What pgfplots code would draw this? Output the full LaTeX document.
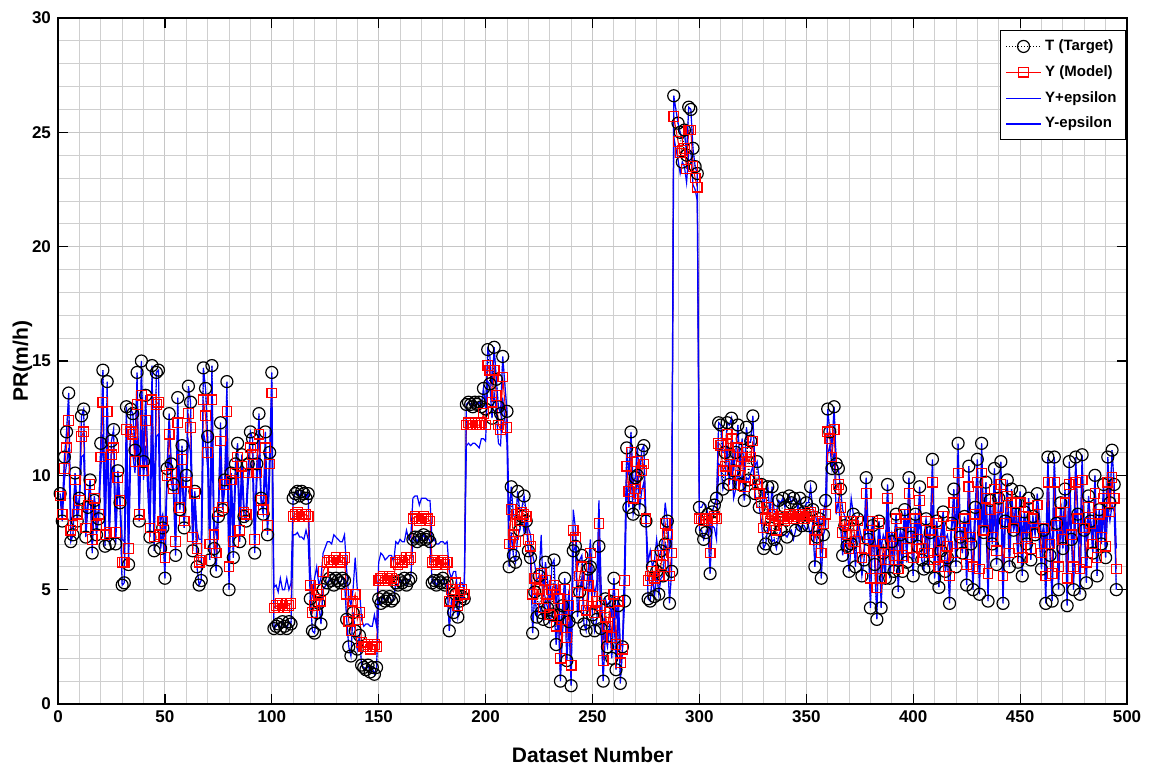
\documentclass[border=0pt]{standalone}
\usepackage{fontspec}
\setmainfont{Liberation Sans}
\usepackage{pgfplots}
\usepackage{pgfplotstable}
\pgfplotsset{compat=1.18}
\pgfplotstableread{
x T Y P M
1 9.2 9.1 9.2 9.0
2 8.0 8.3 8.6 8.0
3 10.8 10.3 10.8 9.8
4 11.9 11.2 11.9 10.5
5 13.6 12.4 13.6 11.2
6 7.1 7.6 8.1 7.1
7 7.4 7.8 8.2 7.4
8 10.1 9.8 10.1 9.5
9 8.0 8.3 8.6 8.0
10 9.0 8.9 9.0 8.8
11 12.6 11.7 12.6 10.8
12 12.9 11.9 12.9 10.9
13 7.3 7.7 8.1 7.3
14 8.6 8.7 8.8 8.6
15 9.8 9.6 9.8 9.4
16 6.6 7.2 7.8 6.6
17 8.9 9.0 9.1 8.9
18 7.4 7.8 8.2 7.4
19 8.1 8.3 8.5 8.1
20 11.4 10.8 11.4 10.2
21 14.6 13.2 14.6 11.8
22 6.9 7.4 7.9 6.9
23 14.1 12.8 14.1 11.5
24 7.0 7.5 8.0 7.0
25 11.5 10.9 11.5 10.3
26 12.0 11.2 12.0 10.4
27 7.0 7.5 8.0 7.0
28 10.2 9.9 10.2 9.6
29 8.8 8.9 9.0 8.8
30 5.2 6.2 7.2 5.2
31 5.3 6.2 7.1 5.3
32 13.0 12.0 13.0 11.0
33 6.1 6.8 7.5 6.1
34 12.9 11.9 12.9 10.9
35 12.7 11.8 12.7 10.9
36 11.1 10.6 11.1 10.1
37 14.5 13.1 14.5 11.7
38 8.0 8.3 8.6 8.0
39 15.0 13.5 15.0 12.0
40 10.6 10.2 10.6 9.8
41 13.5 12.4 13.5 11.3
43 7.3 7.7 8.1 7.3
44 14.8 13.3 14.8 11.8
45 6.7 7.3 7.9 6.7
46 14.5 13.1 14.5 11.7
47 14.6 13.2 14.6 11.8
48 6.8 7.4 8.0 6.8
49 7.7 8.0 8.3 7.7
50 5.5 6.4 7.3 5.5
51 10.3 10.0 10.3 9.7
52 12.7 11.8 12.7 10.9
53 10.5 10.1 10.5 9.7
54 9.6 9.4 9.6 9.2
55 6.5 7.1 7.7 6.5
56 13.4 12.3 13.4 11.2
57 8.5 8.6 8.7 8.5
58 11.3 10.7 11.3 10.1
59 7.7 8.0 8.3 7.7
60 10.0 9.7 10.0 9.4
61 13.9 12.7 13.9 11.5
62 13.2 12.1 13.2 11.0
63 6.7 7.3 7.9 6.7
64 9.3 9.2 9.3 9.1
65 6.0 6.8 7.6 6.0
66 5.2 6.2 7.2 5.2
67 5.4 6.3 7.2 5.4
68 14.7 13.3 14.7 11.9
69 13.8 12.6 13.8 11.4
70 11.7 11.0 11.7 10.3
71 6.3 7.0 7.7 6.3
72 14.8 13.3 14.8 11.8
73 6.8 7.4 8.0 6.8
74 5.8 6.6 7.4 5.8
75 8.2 8.4 8.6 8.2
76 12.3 11.5 12.3 10.7
77 8.5 8.6 8.7 8.5
78 9.8 9.6 9.8 9.4
79 14.1 12.8 14.1 11.5
80 5.0 6.0 7.0 5.0
81 10.1 9.8 10.1 9.5
82 6.4 7.1 7.8 6.4
83 10.5 10.1 10.5 9.7
84 11.4 10.8 11.4 10.2
85 7.1 7.6 8.1 7.1
86 10.9 10.4 10.9 9.9
87 8.2 8.4 8.6 8.2
88 8.0 8.3 8.6 8.0
89 10.5 10.1 10.5 9.7
90 11.9 11.2 11.9 10.5
91 11.6 10.9 11.6 10.2
92 6.6 7.2 7.8 6.6
93 10.5 10.1 10.5 9.7
94 12.7 11.8 12.7 10.9
95 9.0 8.9 9.0 8.8
96 8.3 8.5 8.7 8.3
97 11.9 11.2 11.9 10.5
98 7.4 7.8 8.2 7.4
99 11.0 10.5 11.0 10.0
100 14.5 13.6 14.5 12.7
101 3.3 4.2 5.1 3.3
102 3.4 4.3 5.2 3.4
103 3.5 4.2 4.9 3.5
104 3.3 4.4 5.5 3.3
105 3.6 4.3 5.0 3.6
106 3.4 4.2 5.0 3.4
107 3.3 4.4 5.5 3.3
108 3.6 4.3 5.0 3.6
109 3.5 4.4 5.3 3.5
110 9.0 8.2 9.0 7.4
111 9.2 8.3 9.2 7.4
112 9.3 8.4 9.3 7.5
113 9.1 8.2 9.1 7.3
114 9.3 8.3 9.3 7.3
115 9.2 8.2 9.2 7.2
116 9.0 8.3 9.0 7.6
117 9.2 8.2 9.2 7.2
118 4.6 5.2 5.8 4.6
119 3.2 4.0 4.8 3.2
120 3.1 4.3 5.5 3.1
121 4.0 5.0 6.0 4.0
122 4.4 4.8 5.2 4.4
123 3.5 4.5 5.5 3.5
124 5.0 5.8 6.6 5.0
126 5.3 6.2 7.1 5.3
127 5.5 6.3 7.1 5.5
128 5.4 6.2 7.0 5.4
129 5.2 6.3 7.4 5.2
130 5.5 6.4 7.3 5.5
131 5.4 6.3 7.2 5.4
132 5.3 6.2 7.1 5.3
133 5.5 6.3 7.1 5.5
134 5.4 6.4 7.4 5.4
135 3.7 4.8 5.9 3.7
136 2.5 3.6 4.7 2.5
137 2.1 3.2 4.3 2.1
138 4.0 4.5 5.0 4.0
139 3.2 4.8 6.4 3.2
140 2.4 3.7 5.0 2.4
141 3.0 4.0 5.0 3.0
142 1.7 2.7 3.7 1.7
143 1.6 2.5 3.4 1.6
144 1.5 2.5 3.5 1.5
145 1.7 2.6 3.5 1.7
146 1.4 2.4 3.4 1.4
147 1.6 2.5 3.4 1.6
148 1.3 2.6 3.9 1.3
149 1.6 2.5 3.4 1.6
150 4.6 5.4 6.2 4.6
151 4.4 5.5 6.6 4.4
152 4.7 5.6 6.5 4.7
153 4.5 5.4 6.3 4.5
154 4.6 5.5 6.4 4.6
155 4.7 5.6 6.5 4.7
156 4.5 5.5 6.5 4.5
157 4.6 5.4 6.2 4.6
158 5.3 6.2 7.1 5.3
159 5.2 6.1 7.0 5.2
160 5.4 6.3 7.2 5.4
161 5.3 6.2 7.1 5.3
162 5.5 6.3 7.1 5.5
163 5.2 6.4 7.6 5.2
164 5.4 6.3 7.2 5.4
165 5.5 6.4 7.3 5.5
166 7.2 8.1 9.0 7.2
167 7.3 8.2 9.1 7.3
168 7.1 8.1 9.1 7.1
169 7.3 8.0 8.7 7.3
170 7.2 8.1 9.0 7.2
171 7.4 8.2 9.0 7.4
172 7.2 8.1 9.0 7.2
173 7.3 8.1 8.9 7.3
174 7.1 8.0 8.9 7.1
175 5.3 6.2 7.1 5.3
176 5.4 6.3 7.2 5.4
177 5.2 6.1 7.0 5.2
178 5.4 6.2 7.0 5.4
179 5.3 6.2 7.1 5.3
180 5.5 6.3 7.1 5.5
181 5.2 6.1 7.0 5.2
182 5.3 6.2 7.1 5.3
183 3.2 4.5 5.8 3.2
184 4.5 5.0 5.5 4.5
185 4.0 4.9 5.8 4.0
186 4.8 5.3 5.8 4.8
187 3.8 4.3 4.8 3.8
188 4.5 4.9 5.3 4.5
189 4.7 5.0 5.3 4.7
190 4.6 4.8 5.0 4.6
191 13.1 12.2 13.1 11.3
192 13.2 12.3 13.2 11.4
193 13.1 12.2 13.1 11.3
194 13.0 12.2 13.0 11.4
195 13.2 12.3 13.2 11.4
196 13.1 12.2 13.1 11.3
197 13.2 12.2 13.2 11.2
198 13.0 12.3 13.0 11.6
199 13.8 12.7 13.8 11.6
200 12.9 12.2 12.9 11.5
201 15.5 14.8 15.5 14.1
202 14.0 14.6 15.2 14.0
203 12.5 13.2 13.9 12.5
204 15.6 14.6 15.6 13.6
205 14.2 13.5 14.2 12.8
206 13.0 12.2 13.0 11.4
207 12.7 12.0 12.7 11.3
208 15.2 14.3 15.2 13.4
210 12.8 12.1 12.8 11.4
211 6.0 7.0 8.0 6.0
212 9.5 8.5 9.5 7.5
213 6.5 7.4 8.3 6.5
214 6.2 7.1 8.0 6.2
215 9.3 8.3 9.3 7.3
216 7.6 8.0 8.4 7.6
217 8.2 8.4 8.6 8.2
218 9.1 8.3 9.1 7.5
219 8.0 8.2 8.4 8.0
220 6.7 7.2 7.7 6.7
221 6.4 6.9 7.4 6.4
222 3.1 4.8 6.5 3.1
223 4.9 5.5 6.1 4.9
224 3.8 4.6 5.4 3.8
225 5.6 5.0 5.6 4.4
226 4.0 5.7 7.4 4.0
227 3.7 4.2 4.7 3.7
228 6.2 5.4 6.2 4.6
229 4.2 4.8 5.4 4.2
230 3.6 3.9 4.2 3.6
231 3.9 5.0 6.1 3.9
232 6.3 5.2 6.3 4.1
233 2.6 3.4 4.2 2.6
234 3.9 4.6 5.3 3.9
235 1.0 2.0 3.0 1.0
236 4.3 3.7 4.3 3.1
237 5.5 5.0 5.5 4.5
238 1.9 2.9 3.9 1.9
239 3.6 4.3 5.0 3.6
240 0.8 1.7 2.6 0.8
241 6.7 7.6 8.5 6.7
242 6.9 7.3 7.7 6.9
243 3.8 4.9 6.0 3.8
244 4.9 5.6 6.3 4.9
245 6.5 6.0 6.5 5.5
246 3.5 4.3 5.1 3.5
247 3.2 4.1 5.0 3.2
248 5.9 5.2 5.9 4.5
249 6.0 6.6 7.2 6.0
250 3.9 4.7 5.5 3.9
251 3.2 4.0 4.8 3.2
252 3.7 4.5 5.3 3.7
253 6.9 7.9 8.9 6.9
254 3.3 4.3 5.3 3.3
255 1.0 1.9 2.8 1.0
256 4.6 3.8 4.6 3.0
257 2.5 3.4 4.3 2.5
258 4.5 4.0 4.5 3.5
259 2.0 2.9 3.8 2.0
260 5.5 4.8 5.5 4.1
261 1.5 2.6 3.7 1.5
262 4.3 4.5 4.7 4.3
263 0.9 1.8 2.7 0.9
264 2.5 2.4 2.5 2.3
265 4.5 5.4 6.3 4.5
266 11.2 10.4 11.2 9.6
267 8.6 9.3 10.0 8.6
268 11.9 11.0 11.9 10.1
269 8.3 9.0 9.7 8.3
270 9.9 9.4 9.9 8.9
271 10.0 10.6 11.2 10.0
272 8.5 9.2 9.9 8.5
273 11.1 10.2 11.1 9.3
274 11.3 10.5 11.3 9.7
275 8.0 8.1 8.2 8.0
276 4.6 5.4 6.2 4.6
277 4.5 5.6 6.7 4.5
278 6.0 5.8 6.0 5.6
279 4.7 5.5 6.3 4.7
280 5.8 6.5 7.2 5.8
281 4.8 5.6 6.4 4.8
282 6.7 6.1 6.7 5.5
283 5.6 6.5 7.4 5.6
284 7.0 7.9 8.8 7.0
285 8.0 7.4 8.0 6.8
286 4.4 5.6 6.8 4.4
287 5.8 6.6 7.4 5.8
288 26.6 25.7 26.6 24.8
290 25.4 24.6 25.4 23.8
291 25.0 24.1 25.0 23.2
292 23.7 24.2 24.7 23.7
293 25.1 24.3 25.1 23.5
294 24.0 23.4 24.0 22.8
295 26.1 25.1 26.1 24.1
296 26.0 25.1 26.0 24.2
297 24.3 23.5 24.3 22.7
298 23.5 23.0 23.5 22.5
299 23.2 22.6 23.2 22.0
300 8.6 8.1 8.6 7.6
301 7.6 8.1 8.6 7.6
302 7.2 8.0 8.8 7.2
303 7.5 8.1 8.7 7.5
304 8.3 8.0 8.3 7.7
305 5.7 6.6 7.5 5.7
306 8.4 8.1 8.4 7.8
307 8.7 8.2 8.7 7.7
308 9.0 8.1 9.0 7.2
309 12.3 11.4 12.3 10.5
310 12.2 11.3 12.2 10.4
311 9.4 10.2 11.0 9.4
312 11.0 10.4 11.0 9.8
313 12.3 11.8 12.3 11.3
314 9.6 10.9 12.2 9.6
315 12.5 11.6 12.5 10.7
316 10.2 9.6 10.2 9.0
317 11.0 10.2 11.0 9.4
318 12.2 11.2 12.2 10.2
319 9.6 10.0 10.4 9.6
320 11.6 10.8 11.6 10.0
321 8.9 9.5 10.1 8.9
322 12.1 11.0 12.1 9.9
323 9.8 10.6 11.4 9.8
324 11.5 10.8 11.5 10.1
325 12.6 11.5 12.6 10.4
326 9.2 9.8 10.4 9.2
327 10.6 9.6 10.6 8.6
328 8.6 9.2 9.8 8.6
329 9.6 8.8 9.6 8.0
330 6.8 7.7 8.6 6.8
331 7.0 8.1 9.2 7.0
332 9.5 8.6 9.5 7.7
333 7.7 8.0 8.3 7.7
334 9.5 8.3 9.5 7.1
335 7.2 7.8 8.4 7.2
336 6.8 7.6 8.4 6.8
337 8.9 8.1 8.9 7.3
338 7.6 8.2 8.8 7.6
339 9.0 8.2 9.0 7.4
340 8.6 8.0 8.6 7.4
341 7.3 8.1 8.9 7.3
342 9.1 8.3 9.1 7.5
343 8.8 8.2 8.8 7.6
344 9.0 8.1 9.0 7.2
345 7.6 8.3 9.0 7.6
346 8.5 8.2 8.5 7.9
347 9.0 8.3 9.0 7.6
348 7.8 8.2 8.6 7.8
349 8.4 8.1 8.4 7.8
350 8.8 8.2 8.8 7.6
351 7.8 8.3 8.8 7.8
352 9.5 8.4 9.5 7.3
353 8.5 8.2 8.5 7.9
354 6.0 7.2 8.4 6.0
355 7.3 7.6 7.9 7.3
356 8.1 8.0 8.1 7.9
357 5.5 6.6 7.7 5.5
358 7.4 7.9 8.4 7.4
359 8.9 8.3 8.9 7.7
360 12.9 11.9 12.9 10.9
361 11.9 11.6 11.9 11.3
362 10.3 10.8 11.3 10.3
363 13.0 12.0 13.0 11.0
364 10.5 9.4 10.5 8.3
365 10.3 9.6 10.3 8.9
366 9.4 8.6 9.4 7.8
367 6.5 7.5 8.5 6.5
368 7.8 8.0 8.2 7.8
369 6.9 7.4 7.9 6.9
370 5.8 6.8 7.8 5.8
371 7.0 8.0 9.0 7.0
372 8.3 7.8 8.3 7.3
373 6.0 7.1 8.2 6.0
374 8.1 8.0 8.1 7.9
376 5.6 6.4 7.2 5.6
377 6.3 6.8 7.3 6.3
378 9.9 9.2 9.9 8.5
379 7.2 7.4 7.6 7.2
380 4.2 5.5 6.8 4.2
381 7.8 8.0 8.2 7.8
382 6.1 6.7 7.3 6.1
383 3.7 5.1 6.5 3.7
384 8.0 7.9 8.0 7.8
385 4.2 5.5 6.8 4.2
386 6.6 7.0 7.4 6.6
387 5.5 6.3 7.1 5.5
388 9.6 9.0 9.6 8.4
389 5.5 6.3 7.1 5.5
390 7.1 7.3 7.5 7.1
391 5.8 6.5 7.2 5.8
392 8.3 8.1 8.3 7.9
393 4.9 5.9 6.9 4.9
394 7.4 7.5 7.6 7.4
395 5.8 6.5 7.2 5.8
396 8.5 8.3 8.5 8.1
397 6.2 6.8 7.4 6.2
398 9.9 9.2 9.9 8.5
399 7.3 7.5 7.7 7.3
400 5.6 6.4 7.2 5.6
401 8.3 8.1 8.3 7.9
402 6.9 7.2 7.5 6.9
403 9.5 8.9 9.5 8.3
404 6.3 6.8 7.3 6.3
405 5.9 6.6 7.3 5.9
406 8.1 8.0 8.1 7.9
407 6.0 6.6 7.2 6.0
408 7.5 7.6 7.7 7.5
409 10.7 9.7 10.7 8.7
410 5.5 6.3 7.1 5.5
411 8.0 7.9 8.0 7.8
412 5.1 6.0 6.9 5.1
413 6.7 7.1 7.5 6.7
414 8.4 8.2 8.4 8.0
415 5.8 6.5 7.2 5.8
416 6.4 6.9 7.4 6.4
417 4.4 5.6 6.8 4.4
418 7.9 7.8 7.9 7.7
419 9.4 8.8 9.4 8.2
420 6.0 6.6 7.2 6.0
421 11.4 10.1 11.4 8.8
422 7.3 7.5 7.7 7.3
423 6.6 7.0 7.4 6.6
424 8.2 8.1 8.2 8.0
425 5.2 6.1 7.0 5.2
426 10.4 9.5 10.4 8.6
427 7.0 7.3 7.6 7.0
428 5.0 6.0 7.0 5.0
429 8.6 8.3 8.6 8.0
430 10.7 9.7 10.7 8.7
431 4.8 5.9 7.0 4.8
432 11.4 10.1 11.4 8.8
433 7.5 7.6 7.7 7.5
434 9.7 9.0 9.7 8.3
435 4.5 5.7 6.9 4.5
436 8.9 8.5 8.9 8.1
437 7.0 7.3 7.6 7.0
438 10.3 9.4 10.3 8.5
439 6.1 6.7 7.3 6.1
440 9.0 8.6 9.0 8.2
441 10.6 9.6 10.6 8.6
442 4.4 5.6 6.8 4.4
443 8.0 7.9 8.0 7.8
444 9.8 9.1 9.8 8.4
445 6.0 6.6 7.2 6.0
446 9.4 8.8 9.4 8.2
447 7.6 7.7 7.8 7.6
448 8.8 8.4 8.8 8.0
449 6.2 6.8 7.4 6.2
450 9.3 8.8 9.3 8.3
451 5.6 6.4 7.2 5.6
452 8.4 8.2 8.4 8.0
453 7.0 7.3 7.6 7.0
454 9.0 8.6 9.0 8.2
455 6.3 6.8 7.3 6.3
456 8.2 8.1 8.2 8.0
457 7.4 7.5 7.6 7.4
458 9.2 8.7 9.2 8.2
460 5.9 6.6 7.3 5.9
461 7.6 7.7 7.8 7.6
462 4.4 5.6 6.8 4.4
463 10.8 9.7 10.8 8.6
464 6.5 7.0 7.5 6.5
465 4.5 5.7 6.9 4.5
466 10.8 9.7 10.8 8.6
467 7.9 7.8 7.9 7.7
468 5.0 6.0 7.0 5.0
469 8.8 8.4 8.8 8.0
470 6.8 7.2 7.6 6.8
471 9.4 8.8 9.4 8.2
472 4.3 5.5 6.7 4.3
473 10.6 9.6 10.6 8.6
474 7.2 7.4 7.6 7.2
475 5.0 6.0 7.0 5.0
476 10.8 9.7 10.8 8.6
477 8.3 8.1 8.3 7.9
478 4.8 5.9 7.0 4.8
479 10.9 9.8 10.9 8.7
480 7.6 7.7 7.8 7.6
481 5.3 6.2 7.1 5.3
482 9.1 8.6 9.1 8.1
483 8.0 7.9 8.0 7.8
484 6.6 7.0 7.4 6.6
485 10.0 9.2 10.0 8.4
486 5.6 6.4 7.2 5.6
487 8.5 8.3 8.5 8.1
488 7.0 7.3 7.6 7.0
489 9.6 9.0 9.6 8.4
490 6.4 6.9 7.4 6.4
491 10.8 9.7 10.8 8.6
492 8.8 8.4 8.8 8.0
493 11.1 9.9 11.1 8.7
494 9.6 9.0 9.6 8.4
495 5.0 5.9 6.8 5.0
}\data
\begin{document}
\begin{tikzpicture}
\begin{axis}[
  scale only axis,
  width=534.5pt, height=343pt,
  xmin=0, xmax=500, ymin=0, ymax=30,
  xtick={0,50,...,500}, ytick={0,5,...,30},
  minor x tick num=4, minor y tick num=4,
  grid=both,
  major grid style={gray!45, line width=0.5pt},
  minor grid style={gray!38, line width=0.4pt},
  axis line style={black, line width=1pt},
  tick style={black, line width=0.6pt},
  tick align=inside,
  major tick length=5pt, minor tick length=0pt,
  /pgf/number format/assume math mode=true,
  ticklabel style={font=\fontsize{8.5}{10}\selectfont\bfseries},
  xlabel={\bfseries Dataset Number},
  ylabel={\bfseries PR(m/h)},
  label style={font=\fontsize{10.5}{12}\selectfont},
  xlabel style={yshift=-5pt},
  ylabel style={yshift=-7pt},
  legend style={at={(1,1)}, anchor=north east, xshift=-0.5pt, yshift=-6pt,
    font=\fontsize{7.5}{9}\selectfont\bfseries, draw=black, line width=0.5pt,
    row sep=2pt, inner sep=2.5pt},
  legend cell align=left,
]
\addplot[black, densely dotted, line width=0.5pt, mark=o, mark size=3pt, mark options={solid, line width=0.6pt}] table[x=x, y=T] {\data};
\addlegendentry{T (Target)}
\addplot[red, line width=0.5pt, mark=square, mark size=2.4pt, mark options={solid, line width=0.6pt}] table[x=x, y=Y] {\data};
\addlegendentry{Y (Model)}
\addplot[blue, line width=0.6pt] table[x=x, y=P] {\data};
\addlegendentry{Y+epsilon}
\addplot[blue, line width=0.6pt] table[x=x, y=M] {\data};
\addlegendentry{Y-epsilon}
\end{axis}
\pgfresetboundingbox
\path[use as bounding box] ([xshift=-29pt,yshift=-30.5pt]current axis.south west) rectangle ([xshift=12pt,yshift=9pt]current axis.north east);
\end{tikzpicture}
\end{document}
